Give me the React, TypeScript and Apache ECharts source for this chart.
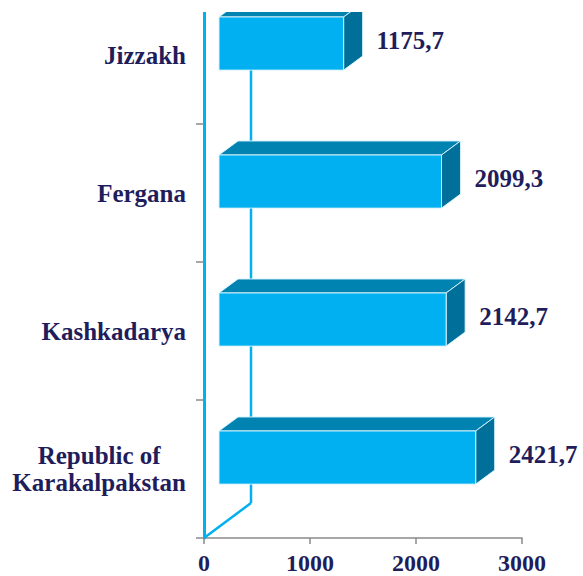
import React, { useEffect, useRef } from "react";
import * as echarts from "echarts";

const categories = ["Republic of\nKarakalpakstan", "Kashkadarya", "Fergana", "Jizzakh"];
const values = [2421.7, 2142.7, 2099.3, 1175.7];
const axisMin = 0;
const axisMax = 3000;
const axisStep = 1000;

const TEXT = "#1f1d5b";
const FONT = "Liberation Serif";
const FS = 25;

export default function App() {
  const ref = useRef<HTMLDivElement>(null);
  useEffect(() => {
    if (!ref.current) return;
    const chart = echarts.init(ref.current, undefined, { renderer: "svg" });
    const fmt = (v: number) => v.toFixed(1).replace(".", ",");
    const option: any = {
      animation: false,
      backgroundColor: "#ffffff",
      grid: {
        left: 204,
        right: 61,
        top: -14,
        bottom: 38,
        containLabel: false,
        outerBoundsMode: "none",
      },
      xAxis: {
        type: "value",
        min: axisMin,
        max: axisMax,
        interval: axisStep,
        axisLine: { show: true, lineStyle: { color: "#8a8a8a", width: 1.5 } },
        axisTick: { show: true, length: 6, lineStyle: { color: "#8a8a8a", width: 1.5 } },
        splitLine: { show: false },
        axisLabel: {
          margin: 15.5,
          color: TEXT,
          fontFamily: FONT,
          fontWeight: "bold",
          fontSize: 24,
          lineHeight: 18,
          formatter: (v: number) => String(v),
        },
      },
      yAxis: {
        type: "category",
        data: categories,
        axisLine: { show: true, lineStyle: { color: "#00b0f0", width: 3 } },
        axisTick: { show: true, length: 8, lineStyle: { color: "#8a8a8a", width: 1.5 } },
        axisLabel: {
          margin: 18,
          color: TEXT,
          fontFamily: FONT,
          fontWeight: "bold",
          fontSize: FS,
          align: "right",
          lineHeight: 27,
          formatter: (v: string) =>
            v
              .split("\n")
              .map((s) => "{c|" + s + "}")
              .join("\n"),
          rich: {
            c: {
              align: "center",
              color: TEXT,
              fontFamily: FONT,
              fontWeight: "bold",
              fontSize: FS,
              lineHeight: 27,
            },
          },
        },
      },
      graphic: [
        {
          type: "rect",
          left: 0,
          top: 0,
          z: 100,
          shape: { width: 583, height: 12 },
          style: { fill: "#ffffff" },
        },
      ],
      series: [
        {
          type: "custom",
          clip: false,
          z: 1,
          data: [[0, 0]],
          encode: { x: 1, y: 0 },
          renderItem: (params: any) => {
            const cs = params.coordSys;
            const bx = cs.x + 47;
            const by = cs.y + cs.height - 35;
            const st = { stroke: "#00b0f0", lineWidth: 2.5, fill: "none" };
            return {
              type: "group",
              children: [
                { type: "line", shape: { x1: bx, y1: cs.y, x2: bx, y2: by }, style: st },
                { type: "line", shape: { x1: cs.x, y1: cs.y + cs.height, x2: bx, y2: by }, style: st },
              ],
            };
          },
        },
        {
          type: "custom",
          clip: false,
          z: 2,
          data: values.map((v, i) => [i, v]),
          encode: { x: 1, y: 0 },
          renderItem: (params: any, api: any) => {
            const cat = api.value(0);
            const val = api.value(1);
            const p0 = api.coord([0, cat]);
            const p1 = api.coord([val, cat]);
            const band = api.size([0, 1])[1];
            const h = band * 0.385;
            const cy = p0[1] - band * 0.083;
            const x0 = p0[0] + 15;
            const x1 = p1[0] + 15;
            const top = cy - h / 2;
            const bot = cy + h / 2;
            const dx = 19;
            const dy = -14;
            const edge = "rgba(215,243,253,0.95)";
            return {
              type: "group",
              children: [
                {
                  type: "polygon",
                  shape: { points: [[x0, top], [x0 + dx, top + dy], [x1 + dx, top + dy], [x1, top]] },
                  style: { fill: "#0083b0", stroke: edge, lineWidth: 1 },
                },
                {
                  type: "polygon",
                  shape: { points: [[x1, top], [x1 + dx, top + dy], [x1 + dx, bot + dy], [x1, bot]] },
                  style: { fill: "#00709a", stroke: edge, lineWidth: 1 },
                },
                {
                  type: "rect",
                  shape: { x: x0, y: top, width: x1 - x0, height: h },
                  style: { fill: "#00b0f0", stroke: edge, lineWidth: 1 },
                },
                {
                  type: "text",
                  x: x1 + dx + 14,
                  y: cy - 3,
                  style: {
                    text: fmt(val),
                    fill: TEXT,
                    fontFamily: FONT,
                    fontWeight: "bold",
                    fontSize: FS,
                    textAlign: "left",
                    textVerticalAlign: "middle",
                  },
                },
              ],
            };
          },
        },
      ],
    };
    chart.setOption(option);
    return () => chart.dispose();
  }, []);
  return (
    <div
      ref={ref}
      style={{ position: "fixed", left: 0, top: 0, width: 583, height: 576, background: "#fff" }}
    />
  );
}
